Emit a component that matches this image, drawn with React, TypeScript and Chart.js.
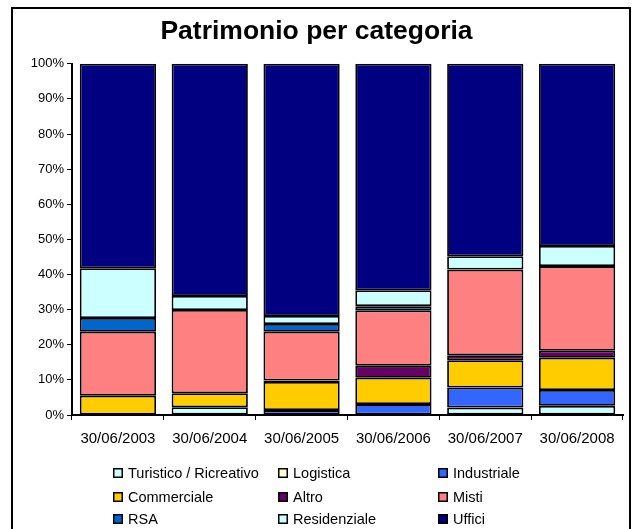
import React, { useEffect, useRef } from "react";
import { Chart, registerables } from "chart.js";

Chart.register(...registerables);

const categories = ["30/06/2003", "30/06/2004", "30/06/2005", "30/06/2006", "30/06/2007", "30/06/2008"];
const yTicks = [0, 10, 20, 30, 40, 50, 60, 70, 80, 90, 100];

const seriesNames = [
  "Turistico / Ricreativo",
  "Logistica",
  "Industriale",
  "Commerciale",
  "Altro",
  "Misti",
  "RSA",
  "Residenziale",
  "Uffici",
];
const seriesColors = ["#CCFFFF", "#FFFFCC", "#3366FF", "#FFCC00", "#660066", "#FF8080", "#0066CC", "#CCFFFF", "#000080"];

const turistico = [0, 2.2, 0, 0, 2.1, 2.6];
const logistica = [0, 0, 0, 0, 0, 0];
const industriale = [0, 0, 1.4, 3.1, 5.7, 4.5];
const commerciale = [5.5, 4.0, 8.0, 7.5, 7.8, 9.2];
const altro = [0, 0, 0.4, 3.4, 1.4, 2.0];
const misti = [18.2, 23.7, 13.9, 15.8, 24.4, 24.1];
const rsa = [3.9, 0, 2.2, 1.2, 0, 0];
const residenziale = [14.2, 4.0, 2.3, 4.5, 3.8, 5.7];
const uffici = [58.2, 66.1, 71.8, 64.5, 54.8, 51.9];

const seriesValues = [turistico, logistica, industriale, commerciale, altro, misti, rsa, residenziale, uffici];

const FONT = "'Liberation Sans', Arial, sans-serif";

const legendCols = [113, 278, 438];
const legendRows = [473, 497, 519];

const gridLegend = {
  id: "gridLegend",
  afterDraw(chart: any) {
    const ctx = chart.ctx;
    ctx.save();
    ctx.font = `14.5px ${FONT}`;
    ctx.textBaseline = "middle";
    ctx.textAlign = "left";
    chart.data.datasets.forEach((ds: any, i: number) => {
      const x = legendCols[i % 3];
      const y = legendRows[Math.floor(i / 3)];
      ctx.fillStyle = ds.backgroundColor;
      ctx.fillRect(x, y - 5, 10, 10);
      ctx.strokeStyle = "#000";
      ctx.lineWidth = 1.5;
      ctx.strokeRect(x + 0.75, y - 4.25, 8.5, 8.5);
      ctx.fillStyle = "#000";
      ctx.fillText(ds.label, x + 15, y + 1);
    });
    ctx.restore();
  },
};

export default function App() {
  const canvasRef = useRef<HTMLCanvasElement | null>(null);

  useEffect(() => {
    if (!canvasRef.current) return;
    const chart = new Chart(canvasRef.current, {
      type: "bar",
      data: {
        labels: categories,
        datasets: seriesNames.map((name, i) => ({
          label: name,
          data: seriesValues[i],
          backgroundColor: seriesColors[i],
          borderColor: "#000000",
          borderWidth: 1.8,
          borderSkipped: false,
          categoryPercentage: 1,
          barPercentage: 0.83,
        })),
      },
      options: {
        animation: false,
        responsive: false,
        maintainAspectRatio: false,
        layout: { padding: { top: 0, left: 10, right: 9, bottom: 74 } },
        plugins: {
          legend: { display: false },
          tooltip: { enabled: false },
          title: {
            display: true,
            text: "Patrimonio per categoria",
            color: "#000",
            font: { family: FONT, size: 26.5, weight: "bold" },
            padding: { top: 16, bottom: 16 },
          },
        },
        scales: {
          x: {
            stacked: true,
            grid: { display: true, drawOnChartArea: false, drawTicks: true, tickLength: 5, color: "#000", offset: true },
            border: { display: true, color: "#000", width: 2 },
            ticks: { color: "#000", font: { family: FONT, size: 15 }, padding: 10, maxRotation: 0 },
            afterFit: (scale: any) => {
              scale.height = 40;
            },
          },
          y: {
            stacked: true,
            min: 0,
            max: 100,
            afterBuildTicks: (scale: any) => {
              scale.ticks = yTicks.map((v) => ({ value: v }));
            },
            grid: { display: true, drawOnChartArea: false, drawTicks: true, tickLength: 5, color: "#000" },
            border: { display: true, color: "#000", width: 2 },
            ticks: {
              color: "#000",
              font: { family: FONT, size: 13 },
              padding: 3,
              callback: (v: any) => `${v}%`,
            },
            afterFit: (scale: any) => {
              scale.width = 62;
            },
          },
        },
      },
      plugins: [gridLegend],
    });
    return () => chart.destroy();
  }, []);

  return (
    <div style={{ position: "fixed", left: 0, top: 0, width: 632, height: 529, overflow: "hidden", background: "#fff" }}>
      <canvas ref={canvasRef} width={632} height={529} style={{ display: "block", width: 632, height: 529 }} />
      <div
        style={{
          position: "absolute",
          left: 11,
          top: 7,
          width: 616,
          height: 540,
          border: "2px solid #000",
          pointerEvents: "none",
        }}
      />
    </div>
  );
}
